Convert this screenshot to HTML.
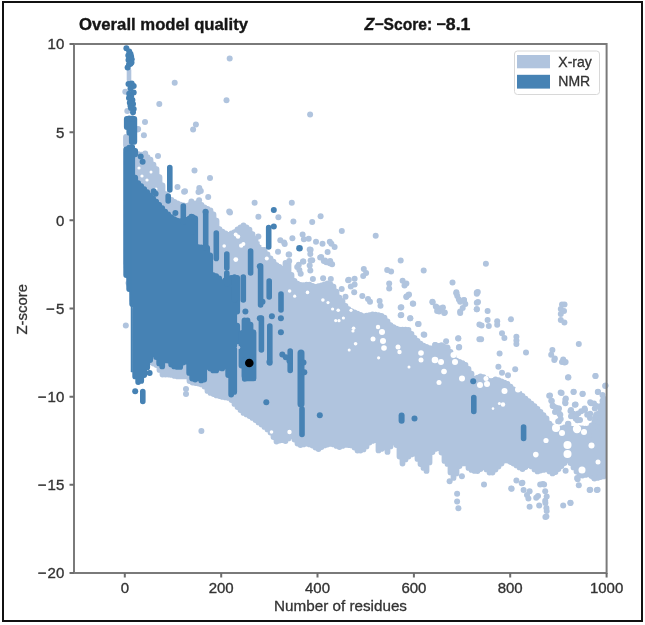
<!DOCTYPE html>
<html><head><meta charset="utf-8"><style>
html,body{margin:0;padding:0;background:#fff;width:645px;height:625px;overflow:hidden}
svg{display:block;will-change:transform}
text{font-family:"Liberation Sans",sans-serif}
</style></head><body>
<svg width="645" height="625" viewBox="0 0 645 625">
<rect x="0" y="0" width="645" height="625" fill="#fff"/>
<!-- outer frame -->
<rect x="3" y="2" width="639" height="619" fill="none" stroke="#111" stroke-width="2"/>
<!-- title -->
<text x="79" y="29.5" font-size="16" font-weight="bold" fill="#161616" stroke="#161616" stroke-width="0.35" textLength="169" lengthAdjust="spacingAndGlyphs">Overall model quality</text>
<text x="364.6" y="29.5" font-size="16" font-weight="bold" font-style="italic" fill="#161616" stroke="#161616" stroke-width="0.35">Z</text>
<rect x="375.2" y="23.2" width="8.2" height="2" fill="#161616"/>
<text x="383.6" y="29.5" font-size="16" font-weight="bold" fill="#161616" stroke="#161616" stroke-width="0.35" textLength="48.6" lengthAdjust="spacingAndGlyphs">Score:</text>
<rect x="437" y="23.2" width="8.6" height="2" fill="#161616"/>
<text x="445.8" y="29.5" font-size="16" font-weight="bold" fill="#161616" stroke="#161616" stroke-width="0.35" textLength="24.6" lengthAdjust="spacingAndGlyphs">8.1</text>

<g id="scatter">
<path d="M126.5 149.7V263.4M129.5 150.9V285.4M132.5 151.9V300.4M135.5 153.2V339.6M138.5 154.2V351.6M141.5 154.7V358.1M144.5 154.9V359.4M147.5 157.2V360.9M150.5 159.7V362.1M153.5 164.7V363.6M156.5 169.2V365.1M159.5 177.2V369.9M162.5 185.4V374.6M165.5 194.2V374.6M168.5 197.9V374.6M171.5 199.9V374.9M174.5 201.9V375.9M177.5 203.4V376.4M180.5 204.7V376.4M183.5 205.4V376.4M186.5 205.9V376.4M189.5 204.9V381.1M192.5 203.9V382.6M195.5 203.4V383.1M198.5 203.2V383.6M201.5 204.9V384.4M204.5 207.4V386.6M207.5 208.9V390.9M210.5 210.4V392.9M213.5 214.4V394.1M216.5 220.7V395.4M219.5 229.2V396.1M222.5 231.7V396.9M225.5 233.4V397.4M228.5 234.9V397.9M231.5 233.4V400.1M234.5 232.2V403.9M237.5 229.4V407.1M240.5 227.4V410.1M243.5 225.4V412.9M246.5 227.4V414.4M249.5 229.7V416.1M252.5 234.2V417.9M255.5 239.2V420.1M258.5 244.4V422.4M261.5 249.9V424.6M264.5 249.9V426.9M267.5 254.4V429.4M270.5 258.4V432.6M273.5 261.6V437.1M276.5 265.1V441.6M279.5 266.9V440.6M282.5 268.9V440.1M285.5 262.9V441.1M288.5 264.1V438.4M291.5 274.9V436.1M294.5 280.9V439.6M297.5 283.6V443.6M300.5 284.9V445.1M303.5 285.1V444.4M306.5 284.6V443.6M309.5 284.6V444.4M312.5 285.9V445.6M315.5 286.9V447.6M318.5 286.1V449.1M321.5 285.4V447.1M324.5 284.4V445.4M327.5 283.4V444.6M330.5 284.4V443.9M333.5 286.6V444.4M336.5 291.6V445.9M339.5 297.6V447.1M342.5 301.1V445.9M345.5 305.9V444.9M348.5 309.1V445.1M351.5 311.1V445.4M354.5 312.4V447.6M357.5 313.6V450.6M360.5 314.9V450.6M363.5 316.1V449.4M366.5 315.6V446.4M369.5 315.1V442.6M372.5 314.4V440.9M375.5 314.6V440.1M378.5 315.1V450.4M381.5 315.9V448.9M384.5 317.6V447.6M387.5 321.4V451.9M390.5 325.1V446.4M393.5 327.1V442.4M396.5 328.6V445.1M399.5 329.6V456.6M402.5 329.6V463.6M405.5 329.6V459.4M408.5 329.9V456.6M411.5 333.9V454.4M414.5 337.9V453.6M417.5 340.9V458.9M420.5 343.6V464.1M423.5 345.6V467.9M426.5 346.9V470.9M429.5 348.1V462.4M432.5 348.4V452.1M435.5 347.1V448.9M438.5 345.9V448.1M441.5 345.1V452.6M444.5 346.9V460.9M447.5 348.4V463.9M450.5 351.9V472.4M453.5 356.1V477.9M456.5 360.6V473.4M459.5 361.9V466.1M462.5 363.1V463.4M465.5 364.9V463.4M468.5 368.9V467.9M471.5 373.6V469.9M474.5 378.9V470.9M477.5 377.6V471.1M480.5 376.4V469.1M483.5 377.1V467.1M486.5 378.9V469.4M489.5 380.9V472.6M492.5 380.9V472.6M495.5 379.4V469.6M498.5 380.1V466.6M501.5 381.4V463.6M504.5 382.6V460.6M507.5 383.9V460.6M510.5 386.6V462.1M513.5 389.4V463.6M516.5 391.4V465.4M519.5 393.4V467.4M522.5 395.9V469.1M525.5 398.6V467.1M528.5 401.1V465.1M531.5 403.6V466.4M534.5 406.1V469.4M537.5 408.9V471.4M540.5 411.9V470.6M543.5 415.1V469.9M546.5 418.4V469.4M549.5 423.6V471.4M552.5 426.4V473.4M555.5 427.9V472.1M558.5 428.9V469.1M561.5 428.4V466.1M564.5 427.4V463.1M567.5 427.4V460.1M570.5 428.4V463.1M573.5 428.9V467.4M576.5 428.4V471.6M579.5 428.1V475.6M582.5 428.4V475.6M585.5 428.6V474.9M588.5 428.4V474.4M591.5 425.4V476.1M594.5 421.4V478.6M597.5 413.9V477.9M600.5 406.6V477.1M603.5 398.4V476.4" stroke="#b0c4de" stroke-width="5.8" stroke-linecap="round" fill="none"/>
<path d="M126 136.9V145.3M128.5 136.9V145.3" stroke="#b0c4de" stroke-width="5.8" stroke-linecap="round" fill="none"/>
<g fill="#b0c4de"><circle cx="125.3" cy="91.8" r="3"/><circle cx="127.3" cy="111" r="3"/><circle cx="229.7" cy="58.5" r="3"/><circle cx="174.7" cy="82.8" r="3"/><circle cx="226.5" cy="100.3" r="3"/><circle cx="159.3" cy="104" r="3"/><circle cx="195.9" cy="124.5" r="3"/><circle cx="193.1" cy="129.6" r="3"/><circle cx="145" cy="121.9" r="3"/><circle cx="143.9" cy="135.2" r="3"/><circle cx="137.5" cy="129.6" r="3"/><circle cx="145.2" cy="153.4" r="3"/><circle cx="310.1" cy="114.4" r="3"/><circle cx="138.1" cy="129" r="3"/><circle cx="158" cy="156" r="3"/><circle cx="194.5" cy="170.5" r="3"/><circle cx="210" cy="178" r="3"/><circle cx="177.5" cy="187" r="3"/><circle cx="185" cy="191.3" r="3"/><circle cx="199.3" cy="188" r="3"/><circle cx="198.5" cy="192" r="3"/><circle cx="208.2" cy="197" r="3"/><circle cx="229.2" cy="211.4" r="3"/><circle cx="191.4" cy="201.4" r="3"/><circle cx="199.1" cy="200.2" r="3"/><circle cx="200.8" cy="191" r="3"/><circle cx="184.1" cy="191.8" r="3"/><circle cx="254.6" cy="202.8" r="3"/><circle cx="291.8" cy="202.8" r="3"/><circle cx="230" cy="212.4" r="3"/><circle cx="258.4" cy="216.8" r="3"/><circle cx="278.4" cy="217.2" r="3"/><circle cx="293.4" cy="221.4" r="3"/><circle cx="312.2" cy="222" r="3"/><circle cx="320.6" cy="216.2" r="3"/><circle cx="341.8" cy="231" r="3"/><circle cx="258.4" cy="236.4" r="3"/><circle cx="292.4" cy="238.3" r="3"/><circle cx="302.6" cy="234.5" r="3"/><circle cx="308.7" cy="238.7" r="3"/><circle cx="316" cy="241.8" r="3"/><circle cx="322.5" cy="243.7" r="3"/><circle cx="329.8" cy="241.8" r="3"/><circle cx="334.6" cy="247" r="3"/><circle cx="280.3" cy="240.2" r="3"/><circle cx="284.7" cy="244.1" r="3"/><circle cx="278" cy="251.8" r="3"/><circle cx="288.6" cy="254.6" r="3"/><circle cx="310.6" cy="249.8" r="3"/><circle cx="303" cy="261.4" r="3"/><circle cx="310.6" cy="260.4" r="3"/><circle cx="320.2" cy="257.5" r="3"/><circle cx="325" cy="260.4" r="3"/><circle cx="329.8" cy="263.3" r="3"/><circle cx="297.2" cy="267.1" r="3"/><circle cx="303.9" cy="239.2" r="3"/><circle cx="331.4" cy="243.7" r="3"/><circle cx="284.1" cy="242.4" r="3"/><circle cx="309.7" cy="249.4" r="3"/><circle cx="310.3" cy="253.9" r="3"/><circle cx="327.6" cy="252" r="3"/><circle cx="321.2" cy="257.1" r="3"/><circle cx="323.8" cy="261" r="3"/><circle cx="326.3" cy="262.2" r="3"/><circle cx="330.2" cy="261" r="3"/><circle cx="332.1" cy="264.2" r="3"/><circle cx="312.2" cy="260.3" r="3"/><circle cx="303.3" cy="261.6" r="3"/><circle cx="298.8" cy="264.8" r="3"/><circle cx="299.4" cy="269.9" r="3"/><circle cx="300.7" cy="273.8" r="3"/><circle cx="309.7" cy="265.4" r="3"/><circle cx="310.3" cy="270.6" r="3"/><circle cx="312.9" cy="278.9" r="3"/><circle cx="323.1" cy="278.2" r="3"/><circle cx="330.8" cy="278.9" r="3"/><circle cx="348.1" cy="280.2" r="3"/><circle cx="341.7" cy="289.1" r="3"/><circle cx="345.5" cy="296.8" r="3"/><circle cx="289.2" cy="254.6" r="3"/><circle cx="289.2" cy="261" r="3"/><circle cx="375.7" cy="235.8" r="3"/><circle cx="400.7" cy="260.4" r="3"/><circle cx="363.8" cy="269" r="3"/><circle cx="387.2" cy="270" r="3"/><circle cx="423.7" cy="270.5" r="3"/><circle cx="366.1" cy="273" r="3"/><circle cx="363.2" cy="276" r="3"/><circle cx="391.1" cy="271.5" r="3"/><circle cx="348.8" cy="279.8" r="3"/><circle cx="354.6" cy="278.8" r="3"/><circle cx="350.8" cy="286.5" r="3"/><circle cx="354.6" cy="284.6" r="3"/><circle cx="354.2" cy="292.2" r="3"/><circle cx="389.2" cy="283.6" r="3"/><circle cx="389.2" cy="288.4" r="3"/><circle cx="402.6" cy="280.7" r="3"/><circle cx="404.5" cy="285.5" r="3"/><circle cx="406.4" cy="283.6" r="3"/><circle cx="408.4" cy="295.1" r="3"/><circle cx="406.4" cy="297" r="3"/><circle cx="413.2" cy="303.8" r="3"/><circle cx="362.3" cy="296.1" r="3"/><circle cx="368" cy="299" r="3"/><circle cx="370" cy="301.8" r="3"/><circle cx="379.6" cy="300.9" r="3"/><circle cx="380.5" cy="305.7" r="3"/><circle cx="400.7" cy="307.6" r="3"/><circle cx="400.7" cy="315.3" r="3"/><circle cx="410.3" cy="318.2" r="3"/><circle cx="418" cy="323.9" r="3"/><circle cx="423.7" cy="334.5" r="3"/><circle cx="452.5" cy="282.6" r="3"/><circle cx="456.4" cy="292.2" r="3"/><circle cx="457.3" cy="296.1" r="3"/><circle cx="460.2" cy="301.8" r="3"/><circle cx="464" cy="300" r="3"/><circle cx="460.2" cy="311.4" r="3"/><circle cx="432.4" cy="301.8" r="3"/><circle cx="437.2" cy="307.6" r="3"/><circle cx="442.9" cy="307.6" r="3"/><circle cx="444.8" cy="312.4" r="3"/><circle cx="439.1" cy="311.4" r="3"/><circle cx="458.3" cy="338.3" r="3"/><circle cx="459.2" cy="347" r="3"/><circle cx="435.2" cy="345" r="3"/><circle cx="485.9" cy="263.7" r="3"/><circle cx="477.8" cy="292" r="3"/><circle cx="476.8" cy="292.4" r="3"/><circle cx="478" cy="302" r="3"/><circle cx="476.8" cy="309.2" r="3"/><circle cx="487.6" cy="311.1" r="3"/><circle cx="487.6" cy="320" r="3"/><circle cx="488.8" cy="326" r="3"/><circle cx="481.6" cy="325.5" r="3"/><circle cx="497.2" cy="321.2" r="3"/><circle cx="497.2" cy="324.8" r="3"/><circle cx="510.9" cy="319.3" r="3"/><circle cx="502" cy="333.2" r="3"/><circle cx="504.4" cy="338" r="3"/><circle cx="481.1" cy="339.2" r="3"/><circle cx="516.4" cy="336.8" r="3"/><circle cx="516.4" cy="340.4" r="3"/><circle cx="516.4" cy="344" r="3"/><circle cx="499.6" cy="353.6" r="3"/><circle cx="526" cy="352.4" r="3"/><circle cx="562" cy="304.4" r="3"/><circle cx="564.5" cy="304.5" r="3"/><circle cx="560.8" cy="309" r="3"/><circle cx="564" cy="311" r="3"/><circle cx="560.8" cy="314" r="3"/><circle cx="560.8" cy="320" r="3"/><circle cx="564.4" cy="322.4" r="3"/><circle cx="578.8" cy="344" r="3"/><circle cx="552.4" cy="350" r="3"/><circle cx="551.2" cy="354.8" r="3"/><circle cx="554.8" cy="358.4" r="3"/><circle cx="563.2" cy="359.6" r="3"/><circle cx="565.6" cy="362" r="3"/><circle cx="595.6" cy="375.9" r="3"/><circle cx="568" cy="377.6" r="3"/><circle cx="515.2" cy="369.2" r="3"/><circle cx="498.4" cy="366.8" r="3"/><circle cx="502" cy="372.8" r="3"/><circle cx="508" cy="375.2" r="3"/><circle cx="605.2" cy="386" r="3"/><circle cx="561.6" cy="393" r="3"/><circle cx="565.4" cy="399.4" r="3"/><circle cx="565.4" cy="403.3" r="3"/><circle cx="550" cy="395.6" r="3"/><circle cx="551.3" cy="400.7" r="3"/><circle cx="552.6" cy="405.8" r="3"/><circle cx="573.7" cy="391.8" r="3"/><circle cx="582.7" cy="393.7" r="3"/><circle cx="598" cy="391.8" r="3"/><circle cx="575.6" cy="404.6" r="3"/><circle cx="559" cy="408.4" r="3"/><circle cx="560.3" cy="414.8" r="3"/><circle cx="559" cy="421.2" r="3"/><circle cx="570.5" cy="411" r="3"/><circle cx="573.1" cy="416.1" r="3"/><circle cx="575.6" cy="418.6" r="3"/><circle cx="578.2" cy="413.5" r="3"/><circle cx="568" cy="423.8" r="3"/><circle cx="573.7" cy="428.9" r="3"/><circle cx="591" cy="403.3" r="3"/><circle cx="594.8" cy="408.4" r="3"/><circle cx="596.1" cy="414.8" r="3"/><circle cx="594.8" cy="423.8" r="3"/><circle cx="587.2" cy="431.4" r="3"/><circle cx="588.4" cy="439.1" r="3"/><circle cx="584.6" cy="408.4" r="3"/><circle cx="587.2" cy="414.8" r="3"/><circle cx="602" cy="405" r="3"/><circle cx="603" cy="415" r="3"/><circle cx="555" cy="412" r="3"/><circle cx="580" cy="420" r="3"/><circle cx="590" cy="418" r="3"/><circle cx="484" cy="484.5" r="3"/><circle cx="461.9" cy="476.3" r="3"/><circle cx="511.6" cy="488.8" r="3"/><circle cx="516.4" cy="480.4" r="3"/><circle cx="522.4" cy="482.8" r="3"/><circle cx="523.6" cy="490" r="3"/><circle cx="529.6" cy="491.2" r="3"/><circle cx="528.4" cy="498.4" r="3"/><circle cx="529.6" cy="506.8" r="3"/><circle cx="538" cy="496" r="3"/><circle cx="539.2" cy="505.6" r="3"/><circle cx="542.8" cy="484" r="3"/><circle cx="545.2" cy="491.2" r="3"/><circle cx="545.2" cy="500.8" r="3"/><circle cx="546.4" cy="508" r="3"/><circle cx="546.4" cy="516.4" r="3"/><circle cx="563.2" cy="505.6" r="3"/><circle cx="570.4" cy="502.7" r="3"/><circle cx="589.6" cy="490" r="3"/><circle cx="596.8" cy="490" r="3"/><circle cx="577.6" cy="479.2" r="3"/><circle cx="578.8" cy="485.2" r="3"/><circle cx="565.6" cy="470.8" r="3"/><circle cx="457.1" cy="493.7" r="3"/><circle cx="457.1" cy="501.6" r="3"/><circle cx="458.4" cy="508.2" r="3"/><circle cx="511.2" cy="488.4" r="3"/><circle cx="521.7" cy="483.2" r="3"/><circle cx="527" cy="495" r="3"/><circle cx="536.2" cy="497.7" r="3"/><circle cx="540.2" cy="484.5" r="3"/><circle cx="544.1" cy="484.5" r="3"/><circle cx="546.7" cy="496.4" r="3"/><circle cx="545.4" cy="502.9" r="3"/><circle cx="546.7" cy="510.9" r="3"/><circle cx="545.4" cy="516.9" r="3"/><circle cx="570.5" cy="502.9" r="3"/><circle cx="577.1" cy="477.9" r="3"/><circle cx="590.2" cy="489.8" r="3"/><circle cx="597.6" cy="489.8" r="3"/><circle cx="594.2" cy="477.9" r="3"/><circle cx="599.5" cy="472.6" r="3"/><circle cx="449.6" cy="481.3" r="3"/><circle cx="201.4" cy="431" r="3"/><circle cx="186" cy="389" r="3"/><circle cx="186" cy="394" r="3"/><circle cx="125.8" cy="325.5" r="3"/><circle cx="128.5" cy="283" r="3"/><circle cx="406.4" cy="296.4" r="3"/><circle cx="409" cy="294.5" r="3"/><circle cx="412.8" cy="303.4" r="3"/><circle cx="401.3" cy="307.3" r="3"/><circle cx="401.3" cy="315" r="3"/><circle cx="410.2" cy="318.2" r="3"/><circle cx="418.6" cy="323.9" r="3"/><circle cx="432.6" cy="302.2" r="3"/><circle cx="435.8" cy="306.6" r="3"/><circle cx="437.1" cy="311.1" r="3"/><circle cx="442.2" cy="307.9" r="3"/><circle cx="444.2" cy="313" r="3"/><circle cx="456.3" cy="293.2" r="3"/><circle cx="458.9" cy="299.6" r="3"/><circle cx="464" cy="300.2" r="3"/><circle cx="465.3" cy="304.1" r="3"/><circle cx="462.7" cy="307.9" r="3"/><circle cx="460.2" cy="313" r="3"/><circle cx="476.8" cy="293.8" r="3"/><circle cx="476.8" cy="302.8" r="3"/><circle cx="476.8" cy="309.2" r="3"/><circle cx="458.2" cy="338.6" r="3"/><circle cx="458.9" cy="347.6" r="3"/><circle cx="424.3" cy="334.8" r="3"/><circle cx="435.2" cy="345" r="3"/><circle cx="446.1" cy="341.2" r="3"/><circle cx="447.4" cy="347.6" r="3"/><circle cx="479.4" cy="324.6" r="3"/><circle cx="479.4" cy="339.3" r="3"/><circle cx="549.2" cy="395.8" r="3"/><circle cx="551.8" cy="401" r="3"/><circle cx="553" cy="406.1" r="3"/><circle cx="555.6" cy="407.4" r="3"/><circle cx="560.7" cy="392.6" r="3"/><circle cx="565.8" cy="398.4" r="3"/><circle cx="565.2" cy="402.2" r="3"/><circle cx="573.5" cy="392" r="3"/><circle cx="582.5" cy="393.9" r="3"/><circle cx="597.8" cy="392" r="3"/><circle cx="574.8" cy="404.8" r="3"/><circle cx="558.2" cy="408.6" r="3"/><circle cx="559.4" cy="413.8" r="3"/><circle cx="560.7" cy="418.9" r="3"/><circle cx="558.2" cy="421.4" r="3"/><circle cx="571" cy="410" r="3"/><circle cx="573.5" cy="413.8" r="3"/><circle cx="571" cy="416.3" r="3"/><circle cx="576" cy="416.3" r="3"/><circle cx="577.4" cy="420.2" r="3"/><circle cx="581.2" cy="411.2" r="3"/><circle cx="585" cy="410" r="3"/><circle cx="590.2" cy="402.2" r="3"/><circle cx="594" cy="403.5" r="3"/><circle cx="596.6" cy="406.1" r="3"/><circle cx="590.2" cy="413.8" r="3"/><circle cx="595.3" cy="417.6" r="3"/><circle cx="596.6" cy="422.7" r="3"/><circle cx="595.3" cy="426.6" r="3"/><circle cx="568.4" cy="424" r="3"/><circle cx="573.5" cy="429.1" r="3"/><circle cx="587.6" cy="429.1" r="3"/><circle cx="588.9" cy="434.2" r="3"/><circle cx="568.4" cy="377.3" r="3"/><circle cx="595.3" cy="376" r="3"/><circle cx="562" cy="362" r="3"/><circle cx="564.6" cy="362.6" r="3"/><circle cx="554.3" cy="360" r="3"/><circle cx="605.5" cy="385.6" r="3"/><circle cx="602.5" cy="395" r="3"/><circle cx="602.5" cy="401" r="3"/><circle cx="602.5" cy="407" r="3"/><circle cx="602.5" cy="413" r="3"/><circle cx="602.5" cy="419" r="3"/><circle cx="602.5" cy="425" r="3"/><circle cx="602.5" cy="431" r="3"/><circle cx="602.5" cy="437" r="3"/></g>
<g fill="#fff"><circle cx="235.8" cy="259.6" r="2.4"/><circle cx="241.2" cy="245.6" r="2.2"/><circle cx="238" cy="236.6" r="2.2"/><circle cx="261.7" cy="243" r="2.2"/><circle cx="266.8" cy="258.4" r="2"/><circle cx="421" cy="353" r="2.8"/><circle cx="421" cy="360" r="2.5"/><circle cx="435" cy="360" r="3.3"/><circle cx="441" cy="362" r="3"/><circle cx="453.5" cy="355" r="3"/><circle cx="455" cy="362" r="3"/><circle cx="444" cy="371.5" r="2.8"/><circle cx="439" cy="382.5" r="2.5"/><circle cx="462" cy="378.5" r="3"/><circle cx="409" cy="367" r="1.5"/><circle cx="480" cy="385" r="3"/><circle cx="487" cy="384" r="3"/><circle cx="504.5" cy="391" r="3"/><circle cx="518" cy="389.5" r="3"/><circle cx="517.5" cy="384" r="2.5"/><circle cx="499.4" cy="403.5" r="1.5"/><circle cx="486" cy="378.5" r="2.5"/><circle cx="493" cy="408.6" r="1.3"/><circle cx="556" cy="428" r="4"/><circle cx="562" cy="433" r="3"/><circle cx="577" cy="429" r="4.2"/><circle cx="584" cy="432" r="3"/><circle cx="567.5" cy="445" r="4"/><circle cx="567.5" cy="454" r="4"/><circle cx="546" cy="440.5" r="2.6"/><circle cx="535.8" cy="454.6" r="2.8"/><circle cx="582" cy="470" r="3.5"/><circle cx="591.5" cy="445.5" r="3"/><circle cx="503" cy="404.5" r="2.2"/><circle cx="598" cy="462" r="2.5"/><circle cx="289.5" cy="432" r="2.2"/><circle cx="271.5" cy="432" r="1.8"/><circle cx="139" cy="168" r="1.6"/><circle cx="142" cy="176" r="1.6"/><circle cx="147" cy="180" r="1.6"/><circle cx="151" cy="172" r="1.5"/><circle cx="156" cy="189" r="1.5"/><circle cx="289.6" cy="291" r="1.8"/><circle cx="294.7" cy="296.2" r="1.6"/><circle cx="307.5" cy="292.4" r="1.8"/><circle cx="322.9" cy="300" r="1.8"/><circle cx="328" cy="302.6" r="1.6"/><circle cx="338.2" cy="310.3" r="1.8"/><circle cx="343.4" cy="318" r="1.6"/><circle cx="353.6" cy="328.2" r="1.8"/><circle cx="335.7" cy="320.6" r="1.6"/><circle cx="351" cy="310.3" r="1.6"/><circle cx="356.2" cy="302.6" r="1.6"/><circle cx="235.7" cy="234.6" r="2"/><circle cx="243.4" cy="244" r="2"/><circle cx="224.2" cy="246" r="1.8"/><circle cx="382" cy="332" r="3"/><circle cx="383" cy="341" r="3"/><circle cx="384" cy="348" r="2.8"/><circle cx="373" cy="339" r="2.5"/><circle cx="398" cy="347" r="2.5"/><circle cx="399.5" cy="352" r="2.2"/><circle cx="378" cy="327" r="2.2"/><circle cx="332.6" cy="309" r="1.6"/><circle cx="339" cy="320.7" r="1.6"/><circle cx="353" cy="331" r="1.6"/><circle cx="349.2" cy="350" r="1.5"/><circle cx="355.6" cy="343.8" r="1.8"/><circle cx="378.6" cy="357.8" r="1.6"/></g>
<path d="M126.2 149.4V275.1M129.2 147.7V289.1M132.2 147.2V304.1M135.2 150.9V154.3M135.2 177.7V376.4M138.2 183.2V382.1M141.2 186.2V380.9M144.2 189.2V375.1M147.2 192.2V367.4M150.2 195.4V360.1M153.2 198.7V354.1M156.2 201.7V357.1M159.2 204.9V363.4M162.2 208.2V366.4M165.2 211.7V360.4M168.2 214.4V360.6M171.2 217.2V364.6M174.2 219.2V366.4M177.2 220.7V366.9M180.2 221.2V366.9M183.2 220.7V362.6M186.2 219.9V361.6M189.2 218.7V372.9M192.2 218.4V378.6M195.2 218.4V379.6M198.2 247.2V378.1M201.2 247.4V380.4M204.2 247.7V379.6M207.2 247.9V366.9M210.2 255.4V368.6M213.2 275.1V370.4M216.2 276.1V370.4M219.2 278.4V367.9M222.2 282.6V368.4M225.2 280.4V366.4M228.2 279.1V375.1M231.2 277.9V394.6M234.2 277.9V391.9M237.2 277.9V311.6M237.2 325.6V341.4" stroke="#4682b4" stroke-width="5.8" stroke-linecap="round" fill="none"/>
<path d="M241.5 333.1V365.6M244.5 320.4V375.9M247.5 320.4V378.4M250.5 324.6V378.4M253.5 332.4V378.4" stroke="#4682b4" stroke-width="5.8" stroke-linecap="round" fill="none"/>
<polygon points="124.4,152 131,150 131,372 132.6,372 132.4,310 129.8,290 127,278 124.3,268" fill="#4682b4" stroke="#4682b4" stroke-width="0.5" stroke-linejoin="round"/>
<path d="M126.8 118.9V127.1M129.3 118.9V132.8M131.8 118.9V142.1M134.3 118.9V141.8" stroke="#4682b4" stroke-width="5.8" stroke-linecap="round" fill="none"/>
<path d="M129 70V80" stroke="#b0c4de" stroke-width="4.6" stroke-linecap="round" fill="none"/>
<path d="M169.8 167.5V190M168.2 196V201M183.3 206V222M192.8 217V232M205.7 212V248M216.3 233V258.4M226.8 254V268M226.8 273V284M234.5 277V300M243.3 277V300M250.6 251V273M260.6 266V305M268.7 227.5V247M269.2 281V297M281 294V310M261.4 318V350M269.8 326V363M290.2 351V370.5M302 409V434.5M142.8 391.5V401.5M473.8 397.5V411.5M523.6 427V438.5M244.7 360V379" stroke="#4682b4" stroke-width="5.6" stroke-linecap="round" fill="none"/><path d="M301 353V404" stroke="#4682b4" stroke-width="7" stroke-linecap="round" fill="none"/><path d="M401.6 415.6V420.8" stroke="#4682b4" stroke-width="6" stroke-linecap="round" fill="none"/>
<g fill="#4682b4"><circle cx="126.4" cy="48.3" r="3"/><circle cx="129.2" cy="51.5" r="3"/><circle cx="128.3" cy="55.5" r="3"/><circle cx="128.5" cy="60" r="3"/><circle cx="129" cy="64.5" r="3"/><circle cx="130.5" cy="54.1" r="3"/><circle cx="131.1" cy="56.6" r="3"/><circle cx="131.7" cy="59.2" r="3"/><circle cx="131.5" cy="62.4" r="3"/><circle cx="130.5" cy="63.7" r="3"/><circle cx="127.6" cy="67.5" r="3"/><circle cx="131.7" cy="83.5" r="3"/><circle cx="133.7" cy="86" r="3"/><circle cx="130.5" cy="88.6" r="3"/><circle cx="133.7" cy="92.4" r="3"/><circle cx="129.2" cy="93.7" r="3"/><circle cx="131.1" cy="96.3" r="3"/><circle cx="132.4" cy="100.1" r="3"/><circle cx="129.8" cy="102.7" r="3"/><circle cx="133" cy="103.9" r="3"/><circle cx="130.5" cy="105.9" r="3"/><circle cx="133.7" cy="109" r="3"/><circle cx="133" cy="112.2" r="3"/><circle cx="129.2" cy="118.6" r="3"/><circle cx="132.4" cy="118.6" r="3"/><circle cx="128.5" cy="84" r="3"/><circle cx="129" cy="98" r="3"/><circle cx="131" cy="108" r="3"/><circle cx="140.7" cy="156.6" r="3"/><circle cx="142.6" cy="161.7" r="3"/><circle cx="153.7" cy="191.2" r="3"/><circle cx="155.6" cy="193.8" r="3"/><circle cx="175.4" cy="213" r="3"/><circle cx="191.4" cy="216.8" r="3"/><circle cx="205.5" cy="211.7" r="3"/><circle cx="273.8" cy="210.1" r="3"/><circle cx="273.8" cy="226.4" r="3"/><circle cx="259.8" cy="266.2" r="3"/><circle cx="299.5" cy="248.3" r="3.3"/><circle cx="280.9" cy="318.2" r="3"/><circle cx="280.9" cy="332.2" r="3"/><circle cx="271.9" cy="316.2" r="3"/><circle cx="245.4" cy="311.4" r="3"/><circle cx="259.8" cy="318.2" r="3"/><circle cx="262.5" cy="301.8" r="3"/><circle cx="266.3" cy="402.2" r="3"/><circle cx="319.8" cy="415.3" r="3"/><circle cx="269.4" cy="361.9" r="3"/><circle cx="135.2" cy="391.3" r="3"/><circle cx="149.6" cy="373" r="3"/><circle cx="414.5" cy="418.6" r="3"/><circle cx="473.2" cy="381.2" r="3"/><circle cx="282.3" cy="354.6" r="3"/><circle cx="285.8" cy="357.3" r="3"/><circle cx="289.4" cy="360.8" r="3"/><circle cx="303.5" cy="362.6" r="3"/><circle cx="304.3" cy="372.3" r="3"/></g>
<g fill="#b0c4de"><circle cx="238.5" cy="347.5" r="1.8"/></g>
<circle cx="249.3" cy="363" r="4.3" fill="#000"/>
</g>

<!-- axes spines -->
<g stroke="#7a7a7a" stroke-width="2" fill="none">
<rect x="74" y="44" width="532.6" height="529"/>
</g>
<g stroke="#6c6c6c" stroke-width="2" fill="none">
<!-- y ticks -->
<path d="M69.5 44H74M69.5 132.2H74M69.5 220.3H74M69.5 308.5H74M69.5 396.7H74M69.5 484.8H74M69.5 573H74"/>
<!-- x ticks -->
<path d="M124.8 573V577.5M221.2 573V577.5M317.5 573V577.5M413.9 573V577.5M510.2 573V577.5M606.6 573V577.5"/>
</g>
<g font-size="15" fill="#333" stroke="#333" stroke-width="0.35" text-anchor="end">
<text x="64.3" y="49.4">10</text>
<text x="64.3" y="137.6">5</text>
<text x="64.3" y="225.7">0</text>
<text x="64.3" y="313.9">−<tspan dx="1.2">5</tspan></text>
<text x="64.3" y="402.1">−<tspan dx="1.2">10</tspan></text>
<text x="64.3" y="490.2">−<tspan dx="1.2">15</tspan></text>
<text x="64.3" y="578.4">−<tspan dx="1.2">20</tspan></text>
</g>
<g font-size="15" fill="#333" stroke="#333" stroke-width="0.35" text-anchor="middle">
<text x="124.8" y="592.8">0</text>
<text x="221.2" y="592.8">200</text>
<text x="317.5" y="592.8">400</text>
<text x="413.9" y="592.8">600</text>
<text x="510.2" y="592.8">800</text>
<text x="606.6" y="592.8">1000</text>
</g>
<text x="274" y="611.4" font-size="15" fill="#333" stroke="#333" stroke-width="0.3" textLength="133" lengthAdjust="spacingAndGlyphs">Number of residues</text>
<text transform="translate(27.1,334.5) rotate(-90)" font-size="15" fill="#333" stroke="#333" stroke-width="0.3" textLength="50.5" lengthAdjust="spacingAndGlyphs">Z-score</text>

<!-- legend -->
<rect x="514.5" y="51" width="85" height="43.5" rx="3" fill="#fff" fill-opacity="0.8" stroke="#d8d8d8" stroke-width="1"/>
<rect x="517" y="55" width="33" height="13.3" fill="#b0c4de"/>
<rect x="517" y="74.8" width="33" height="13.8" fill="#4682b4"/>
<text x="558.3" y="66.8" font-size="14" fill="#333" stroke="#333" stroke-width="0.3">X-ray</text>
<text x="558.3" y="86" font-size="14" fill="#333" stroke="#333" stroke-width="0.3">NMR</text>
</svg>
</body></html>
